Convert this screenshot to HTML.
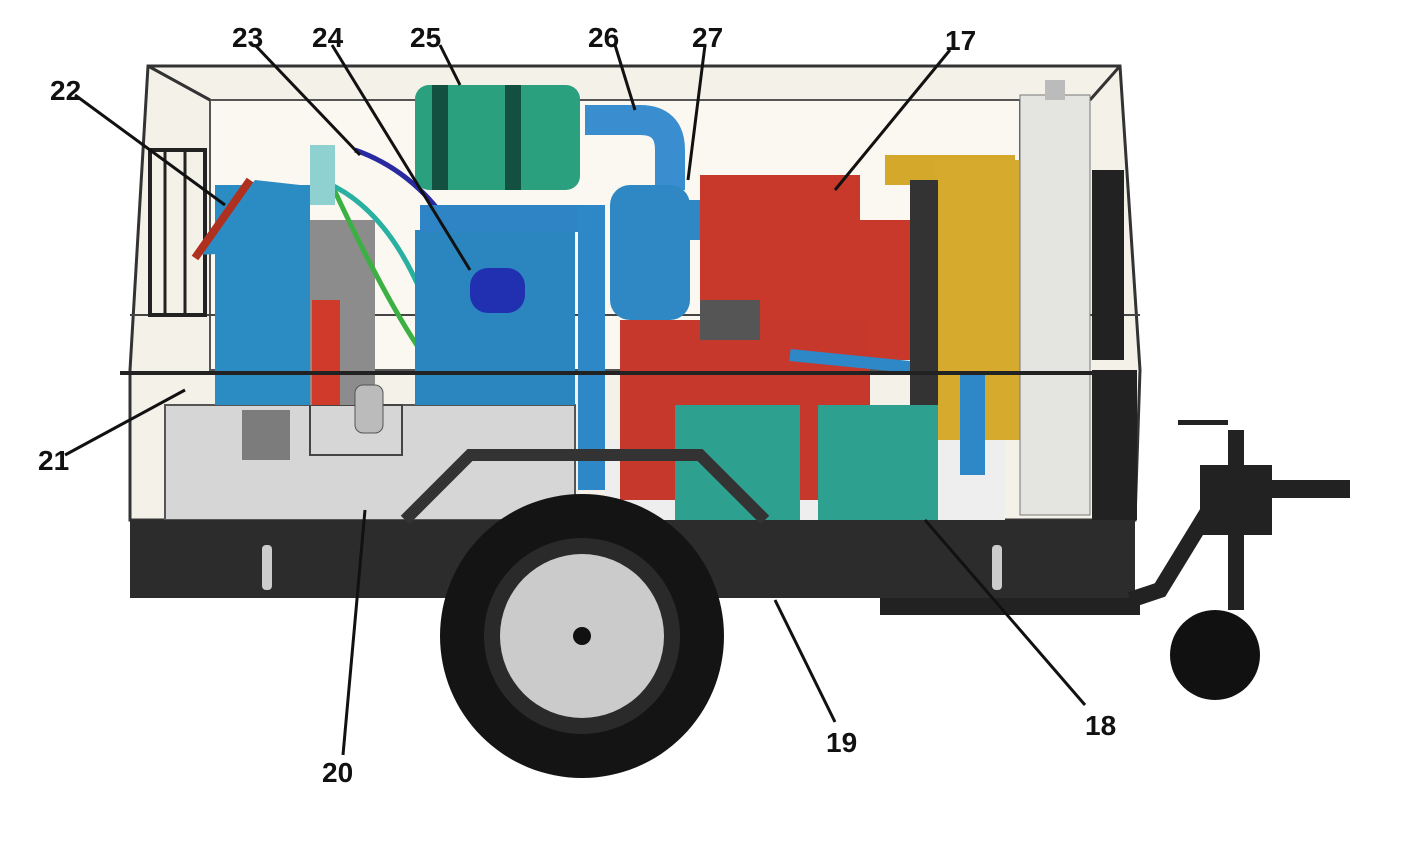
<!DOCTYPE html>
<html><head><meta charset="utf-8"><style>
html,body{margin:0;padding:0;background:#fff;}
svg{display:block}
text{font-family:"Liberation Sans",sans-serif;font-weight:bold;font-size:28px;fill:#111}
</style></head><body>
<svg width="1424" height="852" viewBox="0 0 1424 852" xmlns="http://www.w3.org/2000/svg">
<rect width="1424" height="852" fill="#fff"/>
<!-- enclosure -->
<polygon points="148,66 1120,66 1140,370 1135,520 130,520 130,370" fill="#f4f1e8" stroke="#333" stroke-width="3"/>
<polygon points="210,100 1020,100 1020,370 210,370" fill="#faf8f0" stroke="#555" stroke-width="2"/>
<line x1="148" y1="66" x2="210" y2="100" stroke="#333" stroke-width="3"/>
<line x1="1120" y1="66" x2="1090" y2="100" stroke="#333" stroke-width="3"/>
<line x1="130" y1="315" x2="1140" y2="315" stroke="#444" stroke-width="2"/>
<!-- left filter panel -->
<rect x="150" y="150" width="55" height="165" fill="none" stroke="#222" stroke-width="4"/>
<line x1="165" y1="150" x2="165" y2="315" stroke="#222" stroke-width="3"/>
<line x1="185" y1="150" x2="185" y2="315" stroke="#222" stroke-width="3"/>
<!-- lower gray base -->
<rect x="165" y="405" width="410" height="115" fill="#d6d6d6" stroke="#555" stroke-width="2"/>
<rect x="310" y="405" width="92" height="50" fill="none" stroke="#444" stroke-width="2"/>
<rect x="242" y="410" width="48" height="50" fill="#555" opacity=".7"/>
<rect x="605" y="440" width="400" height="80" fill="#eee"/>
<!-- left structure -->
<rect x="235" y="220" width="140" height="185" fill="#8c8c8c"/>
<rect x="215" y="185" width="95" height="220" fill="#2b8cc4"/>
<polygon points="195,255 255,180 300,185 310,250" fill="#2b8cc4"/>
<line x1="195" y1="258" x2="250" y2="180" stroke="#b03020" stroke-width="8"/>
<rect x="312" y="300" width="28" height="105" fill="#d03a2a"/>
<rect x="355" y="385" width="28" height="48" rx="8" fill="#bbb" stroke="#555"/>
<path d="M325,170 Q380,290 420,350" fill="none" stroke="#3cb043" stroke-width="5"/>
<path d="M320,180 Q400,210 440,345" fill="none" stroke="#2ab0a0" stroke-width="5"/>
<path d="M355,150 Q440,180 480,285" fill="none" stroke="#2a2aa0" stroke-width="5"/>
<rect x="310" y="145" width="25" height="60" fill="#8fd0d0"/>
<!-- blue piping -->
<rect x="415" y="230" width="160" height="175" fill="#2b86c0"/>
<rect x="420" y="205" width="185" height="27" fill="#2e84c4"/>
<rect x="578" y="205" width="27" height="285" fill="#2e88c8"/>
<rect x="470" y="268" width="55" height="45" rx="18" fill="#2030b0"/>
<path d="M585,120 L640,120 Q670,120 670,150 L670,190" fill="none" stroke="#3a8ed0" stroke-width="30"/>
<rect x="610" y="185" width="80" height="135" rx="20" fill="#2f88c4"/>
<rect x="688" y="200" width="35" height="40" fill="#2f88c4"/>
<!-- green tank -->
<rect x="415" y="85" width="165" height="105" rx="14" fill="#2aa07e"/>
<rect x="432" y="85" width="16" height="105" fill="#14503f"/>
<rect x="505" y="85" width="16" height="105" fill="#14503f"/>
<!-- red engine -->
<rect x="700" y="175" width="160" height="160" fill="#c8392c"/>
<rect x="855" y="220" width="55" height="140" fill="#c8392c"/>
<rect x="620" y="320" width="250" height="180" fill="#c6382b"/>
<rect x="700" y="300" width="60" height="40" fill="#555"/>
<line x1="790" y1="355" x2="940" y2="370" stroke="#2e88c8" stroke-width="12"/>
<!-- yellow -->
<rect x="885" y="155" width="130" height="30" fill="#d4a82a"/>
<rect x="935" y="160" width="100" height="280" fill="#d6aa2c"/>
<rect x="910" y="180" width="28" height="260" fill="#333"/>
<rect x="960" y="375" width="25" height="100" fill="#2e88c8"/>
<!-- radiator -->
<rect x="1020" y="95" width="70" height="420" fill="#e4e4e0" stroke="#777"/>
<rect x="1045" y="80" width="20" height="20" fill="#bbb"/>
<rect x="1092" y="170" width="32" height="190" fill="#222"/>
<rect x="1092" y="370" width="45" height="150" fill="#222"/>
<!-- teal boxes -->
<rect x="675" y="405" width="125" height="115" fill="#2ea090"/>
<rect x="818" y="405" width="120" height="115" fill="#2ea090"/>
<!-- frame line -->
<line x1="120" y1="373" x2="1135" y2="373" stroke="#222" stroke-width="4"/>
<!-- chassis -->
<rect x="130" y="520" width="1005" height="78" fill="#2c2c2c"/>
<path d="M405,520 L470,455 L700,455 L765,520" fill="none" stroke="#333" stroke-width="12"/>
<rect x="880" y="598" width="260" height="17" fill="#222"/>
<rect x="262" y="545" width="10" height="45" rx="4" fill="#ccc"/>
<rect x="992" y="545" width="10" height="45" rx="4" fill="#ccc"/>
<!-- drawbar -->
<path d="M1130,600 L1160,590 L1215,500" fill="none" stroke="#222" stroke-width="16"/>
<rect x="1200" y="465" width="72" height="70" fill="#222"/>
<rect x="1228" y="430" width="16" height="180" fill="#222"/>
<rect x="1270" y="480" width="80" height="18" fill="#222"/>
<circle cx="1215" cy="655" r="45" fill="#111"/>
<rect x="1178" y="420" width="50" height="5" fill="#222"/>
<!-- wheel -->
<circle cx="582" cy="636" r="142" fill="#141414"/>
<circle cx="582" cy="636" r="98" fill="#2a2a2a"/>
<circle cx="582" cy="636" r="82" fill="#cbcbcb"/>
<circle cx="582" cy="636" r="9" fill="#111"/>
<!-- leader lines -->
<g stroke="#111" stroke-width="3">
<line x1="75" y1="95" x2="225" y2="205"/>
<line x1="255" y1="45" x2="360" y2="155"/>
<line x1="332" y1="45" x2="470" y2="270"/>
<line x1="440" y1="45" x2="460" y2="85"/>
<line x1="615" y1="45" x2="635" y2="110"/>
<line x1="705" y1="45" x2="688" y2="180"/>
<line x1="950" y1="50" x2="835" y2="190"/>
<line x1="65" y1="455" x2="185" y2="390"/>
<line x1="343" y1="755" x2="365" y2="510"/>
<line x1="835" y1="722" x2="775" y2="600"/>
<line x1="1085" y1="705" x2="925" y2="520"/>
</g>
<text x="50" y="100">22</text>
<text x="232" y="47">23</text>
<text x="312" y="47">24</text>
<text x="410" y="47">25</text>
<text x="588" y="47">26</text>
<text x="692" y="47">27</text>
<text x="945" y="50">17</text>
<text x="38" y="470">21</text>
<text x="322" y="782">20</text>
<text x="826" y="752">19</text>
<text x="1085" y="735">18</text>
</svg>
</body></html>
